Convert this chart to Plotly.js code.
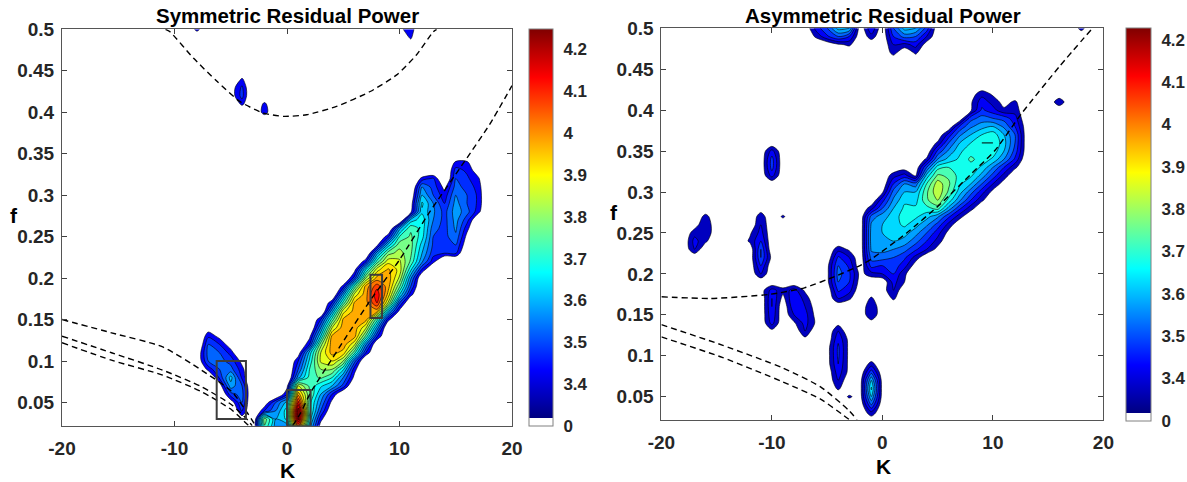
<!DOCTYPE html>
<html><head><meta charset="utf-8">
<script src="https://cdn.plot.ly/plotly-3.0.1.min.js"></script>
<style>html,body{margin:0;padding:0;background:#fff}#chart{width:1187px;height:482px}</style>
</head><body><div id="chart"></div>
<script>
// ---------- grid axes ----------
const fGrid = [0.02,0.03,0.04,0.05,0.06,0.07,0.08,0.09,0.10,0.11,0.12,0.13,0.14,0.15,0.16,0.17,0.18,0.19,0.20,0.21,0.22,0.23,0.24,0.25,0.26,0.27,0.28,0.29,0.30,0.31,0.32,0.33,0.34,0.35,0.36,0.37,0.38,0.39,0.40,0.41,0.42,0.43,0.44,0.45,0.46,0.47,0.48,0.49,0.50];
const symK = [-9,-8,-7,-6,-5,-4,-3,-2,-1,0,1,2,3,4,5,6,7,8,9,10,11,12,13,14,15,16,17,18];
const asymK = [-18,-17,-16,-15,-14,-13,-12,-11,-10,-9,-8,-7,-6,-5,-4,-3,-2,-1,0,1,2,3,4,5,6,7,8,9,10,11,12,13,14,15,16,17,18,19];
const FLOOR = 3.3; // masked (insignificant) cells, shown as "0" on the colour bar

// ---------- symmetric residual power: one row per f, [K, value] for cells above the mask ----------
const symRows = [
 [[-3,3.33],[-2,3.74],[-1,3.58],[0,3.56],[1,4.02],[2,3.62],[3,3.36]],
 [[-4,3.36],[-2,3.78],[-1,3.6],[0,3.66],[1,4.22],[2,3.68],[3,3.42]],
 [[-4,3.46],[-2,3.45],[-1,3.55],[0,3.68],[1,4.24],[2,3.72],[3,3.5],[4,3.33]],
 [[-5,3.36],[-4,3.5],[-2,3.35],[-1,3.5],[0,3.62],[1,4.12],[2,3.72],[3,3.55],[4,3.38]],
 [[-5,3.48],[-4,3.52],[0,3.45],[1,3.98],[2,3.76],[3,3.6],[4,3.45],[5,3.32]],
 [[-6,3.36],[-5,3.58],[-4,3.5],[0,3.38],[1,3.85],[2,3.74],[3,3.66],[4,3.6],[5,3.48]],
 [[-6,3.46],[-5,3.62],[-4,3.44],[1,3.58],[2,3.72],[3,3.76],[4,3.7],[5,3.55],[6,3.38]],
 [[-7,3.42],[-6,3.5],[-5,3.52],[-4,3.42],[1,3.5],[2,3.7],[3,3.8],[4,3.8],[5,3.66],[6,3.42]],
 [[-8,3.34],[-7,3.5],[-6,3.52],[-5,3.48],[-4,3.38],[1,3.45],[2,3.66],[3,3.86],[4,3.9],[5,3.8],[6,3.52]],
 [[-8,3.34],[-7,3.52],[-6,3.5],[-5,3.43],[1,3.36],[2,3.62],[3,3.85],[4,3.97],[5,3.93],[6,3.72],[7,3.45]],
 [[-7,3.5],[-6,3.45],[-5,3.36],[2,3.45],[3,3.78],[4,3.98],[5,3.98],[6,3.86],[7,3.56],[8,3.32]],
 [[-7,3.44],[-6,3.38],[2,3.38],[3,3.65],[4,3.96],[5,3.98],[6,3.97],[7,3.74],[8,3.46]],
 [[-7,3.36],[3,3.55],[4,3.85],[5,3.98],[6,3.98],[7,3.86],[8,3.58]],
 [[3,3.45],[4,3.72],[5,3.96],[6,3.98],[7,3.97],[8,3.72],[9,3.42]],
 [[4,3.58],[5,3.88],[6,3.97],[7,3.98],[8,3.97],[9,3.62],[10,3.38]],
 [[4,3.45],[5,3.72],[6,3.96],[7,3.98],[8,4.1],[9,3.84],[10,3.5]],
 [[5,3.58],[6,3.87],[7,3.98],[8,4.14],[9,3.93],[10,3.65],[11,3.42]],
 [[5,3.42],[6,3.72],[7,3.97],[8,4.08],[9,3.97],[10,3.76],[11,3.5]],
 [[6,3.47],[7,3.8],[8,3.97],[9,3.98],[10,3.84],[11,3.56],[12,3.32]],
 [[6,3.38],[7,3.65],[8,3.88],[9,3.96],[10,3.88],[11,3.66],[12,3.44]],
 [[7,3.44],[8,3.72],[9,3.88],[10,3.86],[11,3.74],[12,3.56],[13,3.42]],
 [[8,3.58],[9,3.78],[10,3.82],[11,3.76],[12,3.6],[13,3.47],[14,3.45],[15,3.46]],
 [[8,3.38],[9,3.62],[10,3.78],[11,3.77],[12,3.63],[13,3.49],[14,3.47],[15,3.5],[16,3.35]],
 [[9,3.44],[10,3.7],[11,3.76],[12,3.67],[13,3.5],[14,3.48],[15,3.54],[16,3.38]],
 [[10,3.58],[11,3.74],[12,3.68],[13,3.52],[14,3.48],[15,3.56],[16,3.42]],
 [[11,3.62],[12,3.68],[13,3.55],[14,3.48],[15,3.57],[16,3.47],[17,3.32]],
 [[11,3.38],[12,3.64],[13,3.56],[14,3.48],[15,3.58],[16,3.52],[17,3.42]],
 [[11,3.36],[12,3.66],[13,3.55],[14,3.45],[15,3.57],[16,3.5],[17,3.44]],
 [[11,3.33],[12,3.6],[13,3.5],[14,3.42],[15,3.55],[16,3.5],[17,3.44]],
 [[12,3.55],[13,3.48],[14,3.38],[15,3.52],[16,3.48],[17,3.43]],
 [[12,3.42],[13,3.46],[15,3.5],[16,3.46],[17,3.41]],
 [[15,3.47],[16,3.44],[17,3.36]],
 [[15,3.41],[16,3.41]],
 [],[],[],[],[],
 [[-2,3.44]],
 [[-4,3.42],[-2,3.42]],
 [[-5,3.36],[-4,3.47]],
 [[-5,3.36],[-4,3.46]],
 [[-4,3.41]],
 [],[],[],
 [[11,3.35]],
 [[10,3.34],[11,3.41]],
 [[-8,3.43],[10,3.38],[11,3.44]]
];

// ---------- asymmetric residual power ----------
const asymRows = [
 [],
 [[-1,3.38]],
 [[-1,3.5]],
 [[-3,3.36],[-2,3.32],[-1,3.6],[0,3.32]],
 [[-4,3.36],[-2,3.32],[-1,3.66],[0,3.32]],
 [[-4,3.4],[-2,3.32],[-1,3.6],[0,3.32]],
 [[-4,3.43],[-3,3.33],[-1,3.48]],
 [[-5,3.32],[-4,3.45],[-3,3.33],[-1,3.37]],
 [[-5,3.32],[-4,3.46],[-3,3.33]],
 [[-5,3.32],[-4,3.46],[-3,3.33]],
 [[-7,3.33],[-4,3.44],[-3,3.33]],
 [[-10,3.33],[-7,3.4],[-4,3.4]],
 [[-10,3.42],[-8,3.34],[-7,3.42],[-6,3.34],[-4,3.33],[-1,3.32]],
 [[-10,3.44],[-8,3.4],[-7,3.42],[-6,3.33],[-1,3.4]],
 [[-10,3.45],[-8,3.44],[-7,3.4],[-6,3.32],[-1,3.4]],
 [[-10,3.45],[-9,3.33],[-8,3.45],[-7,3.38],[-4,3.4],[-3,3.36],[-1,3.36],[1,3.36]],
 [[-11,3.32],[-10,3.42],[-9,3.37],[-8,3.42],[-7,3.34],[-4,3.46],[-3,3.42],[0,3.32],[1,3.4]],
 [[-5,3.33],[-4,3.5],[-3,3.45],[-2,3.32],[1,3.42],[2,3.35]],
 [[-11,3.4],[-5,3.33],[-4,3.52],[-3,3.46],[-2,3.33],[-1,3.38],[0,3.4],[1,3.45],[2,3.36]],
 [[-11,3.45],[-5,3.33],[-4,3.5],[-3,3.44],[-1,3.47],[0,3.45],[1,3.48],[2,3.42],[3,3.32]],
 [[-11,3.5],[-10,3.33],[-4,3.46],[-3,3.4],[-1,3.52],[0,3.52],[1,3.5],[2,3.46],[3,3.38]],
 [[-17,3.4],[-11,3.5],[-4,3.38],[-3,3.34],[-1,3.56],[0,3.57],[1,3.55],[2,3.52],[3,3.46],[4,3.4],[5,3.33]],
 [[-17,3.42],[-16,3.36],[-12,3.36],[-11,3.45],[-1,3.57],[0,3.58],[1,3.6],[2,3.58],[3,3.52],[4,3.45],[5,3.38]],
 [[-17,3.38],[-16,3.4],[-12,3.34],[-11,3.42],[-1,3.57],[0,3.6],[1,3.62],[2,3.62],[3,3.57],[4,3.5],[5,3.42],[6,3.33]],
 [[-17,3.32],[-16,3.4],[-11,3.4],[-1,3.56],[0,3.6],[1,3.63],[2,3.66],[3,3.62],[4,3.56],[5,3.48],[6,3.38]],
 [[-16,3.37],[-11,3.38],[-9,3.36],[-1,3.52],[0,3.58],[1,3.62],[2,3.68],[3,3.66],[4,3.62],[5,3.56],[6,3.46],[7,3.37]],
 [[-11,3.32],[-1,3.38],[0,3.5],[1,3.6],[2,3.66],[3,3.66],[4,3.68],[5,3.72],[6,3.58],[7,3.46],[8,3.37]],
 [[0,3.43],[1,3.56],[2,3.64],[3,3.63],[4,3.74],[5,3.8],[6,3.68],[7,3.56],[8,3.45],[9,3.36]],
 [[0,3.34],[1,3.52],[2,3.6],[3,3.6],[4,3.74],[5,3.84],[6,3.74],[7,3.62],[8,3.52],[9,3.42],[10,3.33]],
 [[1,3.45],[2,3.55],[3,3.52],[4,3.7],[5,3.83],[6,3.76],[7,3.66],[8,3.6],[9,3.5],[10,3.4],[11,3.32]],
 [[-10,3.42],[1,3.38],[2,3.42],[3,3.34],[4,3.62],[5,3.76],[6,3.74],[7,3.68],[8,3.66],[9,3.58],[10,3.48],[11,3.38]],
 [[-10,3.47],[2,3.32],[4,3.5],[5,3.68],[6,3.7],[7,3.68],[8,3.68],[9,3.64],[10,3.55],[11,3.45],[12,3.36]],
 [[-10,3.47],[4,3.36],[5,3.55],[6,3.62],[7,3.66],[8,3.71],[9,3.68],[10,3.64],[11,3.55],[12,3.44]],
 [[-10,3.42],[5,3.46],[6,3.56],[7,3.64],[8,3.68],[9,3.69],[10,3.68],[11,3.6],[12,3.48],[13,3.32]],
 [[5,3.36],[6,3.5],[7,3.6],[8,3.65],[9,3.7],[10,3.7],[11,3.62],[12,3.5],[13,3.32]],
 [[6,3.42],[7,3.54],[8,3.6],[9,3.65],[10,3.68],[11,3.6],[12,3.5],[13,3.32]],
 [[7,3.46],[8,3.54],[9,3.58],[10,3.6],[11,3.54],[12,3.45],[13,3.32]],
 [[8,3.48],[9,3.52],[10,3.5],[11,3.48],[12,3.42]],
 [[8,3.34],[9,3.46],[10,3.42],[11,3.36],[12,3.38]],
 [[8,3.34],[9,3.43],[10,3.38],[11,3.33],[12,3.36],[16,3.39]],
 [[8,3.32],[9,3.38],[10,3.34]],
 [],[],[],[],
 [[1,3.37],[3,3.36]],
 [[-4,3.34],[-3,3.36],[1,3.4],[2,3.38],[3,3.42],[4,3.32]],
 [[-6,3.36],[-5,3.44],[-4,3.5],[-3,3.45],[-1,3.38],[1,3.45],[2,3.52],[3,3.5],[4,3.4]],
 [[-6,3.42],[-5,3.5],[-4,3.62],[-3,3.6],[-1,3.45],[1,3.5],[2,3.62],[3,3.6],[4,3.48],[18,3.37]]
];

// ---------- dashed theoretical curves ----------
const symTopK  = [-10.8,-10.4,-8.3,-6.2,-4.2,-2.1,-0.3,1.75,4.4,7.4,9.75,11.5,13.0,13.3];
const symTopF  = [0.5,0.497,0.465,0.437,0.413,0.399,0.395,0.397,0.407,0.425,0.445,0.469,0.497,0.5];
const symRiseK = [0.5,1.2,2.1,3.5,5.3,7.5,10.0,12.6,15.8,18.0,20.0];
const symRiseF = [0.022,0.037,0.062,0.092,0.13,0.175,0.222,0.278,0.341,0.385,0.432];
const symLowAK = [-20,-15.6,-11.05,-7.6,-4.9,-3.5,-2.8];
const symLowAF = [0.150,0.134,0.117,0.089,0.063,0.037,0.022];
const symLowBK = [-20,-15.6,-11.05,-7.6,-4.9,-3.5,-3.1];
const symLowBF = [0.130,0.110,0.089,0.069,0.047,0.029,0.022];
const symLowCK = [-20,-15.6,-11.05,-7.6,-4.9,-3.8,-3.4];
const symLowCF = [0.122,0.101,0.083,0.063,0.041,0.027,0.022];
const asymCurveK = [-20,-15.5,-10.2,-7.05,-4.1,-1.9,-0.9,2.2,5.3,8.1,10.2,12.6,16.0,19.0];
const asymCurveF = [0.172,0.170,0.175,0.183,0.198,0.211,0.219,0.25,0.286,0.323,0.351,0.396,0.453,0.5];
const asymLowAK = [-20,-14.5,-9,-5.6,-3.1,-2.3];
const asymLowAF = [0.138,0.113,0.085,0.062,0.034,0.022];
const asymLowBK = [-20,-14.5,-9,-5.6,-3.5,-2.9];
const asymLowBF = [0.123,0.098,0.068,0.047,0.027,0.021];

// ---------- highlight boxes (symmetric panel) ----------
const boxK0 = [-6.25, 0.0, 7.42];
const boxK1 = [-3.65, 2.1, 8.45];
const boxF0 = [0.030, 0.022, 0.152];
const boxF1 = [0.100, 0.065, 0.204];

// ---------- ticks ----------
const kTicks = [-20,-10,0,10,20];
const kTickText = ['-20','-10','0','10','20'];
const fTicks = [0.05,0.1,0.15,0.2,0.25,0.3,0.35,0.4,0.45,0.5];
const fTickText = ['0.05','0.1','0.15','0.2','0.25','0.3','0.35','0.4','0.45','0.5'];
const cbTicks = [3.3,3.4,3.5,3.6,3.7,3.8,3.9,4.0,4.1,4.2];
const cbTickText = ['0','3.4','3.5','3.6','3.7','3.8','3.9','4','4.1','4.2'];

// ---------- build ----------
const JET_LO = 3.318, CB_MIN = 3.3;
const CMAX_SYM = 4.247, CMAX_ASYM = 4.228;
function jetRGB(t){
  t = Math.max(0, Math.min(1, t));
  const c = x => Math.round(255*Math.max(0, Math.min(1, x)));
  const r = Math.min(4*t-1.5, -4*t+4.5), g = Math.min(4*t-0.5, -4*t+3.5), b = Math.min(4*t+0.5, -4*t+2.5);
  return 'rgb(' + c(r) + ',' + c(g) + ',' + c(b) + ')';
}
function buildZ(kArr, rows){
  return fGrid.map((f, i) => {
    const r = kArr.map(() => FLOOR);
    rows[i].forEach(([k, v]) => { r[kArr.indexOf(k)] = v; });
    return r;
  });
}
function contourScale(start, size, end, cmax){
  const nc = Math.round((end - start)/size) + 1;
  const s = [[0, '#ffffff']];
  for (let i = 0; i < nc; i++){
    const v = start + (i + 0.5)*size;
    s.push([i === nc - 1 ? 1 : (i + 1)/nc, jetRGB((v - JET_LO)/(cmax - JET_LO))]);
  }
  return s;
}
function barScale(cmax){
  const pw = (JET_LO - CB_MIN)/(cmax - CB_MIN);
  const s = [[0, '#ffffff'], [pw, '#ffffff']];
  const n = 40;
  for (let k = 0; k <= n; k++){
    let p = k === 0 ? pw + 0.0005 : pw + (1 - pw)*k/n;
    if (k === n) p = 1;
    s.push([Math.min(1, p), jetRGB(k/n)]);
  }
  return s;
}
const FONT = 'Liberation Sans, Arial, sans-serif';
const INK = '#262626';
function contourTrace(kArr, rows, xa, ya, start, cmax){
  const end = 4.2, size = 0.05;
  return {type:'contour', x:kArr, y:fGrid, z:buildZ(kArr, rows), xaxis:xa, yaxis:ya,
    autocontour:false, contours:{start:start, end:end, size:size, coloring:'fill', showlines:true},
    zauto:false, zmin:start - size/2, zmax:end + size/2,
    line:{color:'#000000', width:0.6, smoothing:0.85},
    colorscale:contourScale(start, size, end, cmax), showscale:false, hoverinfo:'skip'};
}
function dashed(x, y, xa, ya, shape){
  return {type:'scatter', mode:'lines', x:x, y:y, xaxis:xa, yaxis:ya,
    line:{color:'#000', width:1.4, dash:'6px,4px', shape:shape || 'linear', smoothing:0.6},
    hoverinfo:'skip', showlegend:false};
}
function cbTrace(xa, ya, cmax, cb){
  return {type:'scatter', mode:'markers', x:[-100], y:[-1], xaxis:xa, yaxis:ya, hoverinfo:'skip', showlegend:false,
    marker:{size:1, opacity:0, color:[CB_MIN], cmin:CB_MIN, cmax:cmax, autocolorscale:false, colorscale:barScale(cmax), showscale:true,
      colorbar:Object.assign({xref:'paper', yref:'paper', xanchor:'left', yanchor:'top', lenmode:'fraction',
        thicknessmode:'pixels', xpad:0, ypad:0, outlinecolor:'#808080', outlinewidth:1,
        tickmode:'array', tickvals:cbTicks, ticktext:cbTickText, ticks:'outside', ticklen:7, tickcolor:'rgba(0,0,0,0)',
        tickfont:{family:FONT, size:17, color:INK, weight:700}}, cb)}};
}

const traces = [
  contourTrace(symK, symRows, 'x', 'y', 3.40, CMAX_SYM),
  contourTrace(asymK, asymRows, 'x2', 'y2', 3.35, CMAX_ASYM),
  dashed(symTopK, symTopF, 'x', 'y', 'spline'),
  dashed(symRiseK, symRiseF, 'x', 'y', 'spline'),
  dashed(symLowAK, symLowAF, 'x', 'y', 'spline'),
  dashed(symLowBK, symLowBF, 'x', 'y', 'spline'),
  dashed(symLowCK, symLowCF, 'x', 'y', 'spline'),
  dashed(asymCurveK, asymCurveF, 'x2', 'y2', 'spline'),
  dashed(asymLowAK, asymLowAF, 'x2', 'y2', 'spline'),
  dashed(asymLowBK, asymLowBF, 'x2', 'y2', 'spline'),
  cbTrace('x', 'y', CMAX_SYM, {x:529/1187, y:1-29.3/482, len:397.4/482, thickness:24}),
  cbTrace('x2', 'y2', CMAX_ASYM, {x:1126/1187, y:1-27.7/482, len:393/482, thickness:25})
];

const tickFont = {family:FONT, size:19, color:INK, weight:700};
function xAxis(domain, anchor){
  return {domain:domain, anchor:anchor, range:[-20,20], tickmode:'array', tickvals:kTicks, ticktext:kTickText,
    ticks:'inside', ticklen:5, tickwidth:1, tickcolor:'#404040', showline:true, linecolor:'#555', linewidth:1,
    mirror:'ticks', showgrid:false, zeroline:false, tickfont:tickFont, ticklabelstandoff:5, fixedrange:true};
}
function yAxis(domain, anchor, lo){
  return {domain:domain, anchor:anchor, range:[lo,0.5], tickmode:'array', tickvals:fTicks, ticktext:fTickText,
    ticks:'inside', ticklen:5, tickwidth:1, tickcolor:'#404040', showline:true, linecolor:'#555', linewidth:1,
    mirror:'ticks', showgrid:false, zeroline:false, tickfont:tickFont, ticklabelstandoff:3, fixedrange:true};
}
const shapes = boxK0.map((k0, i) => ({type:'rect', xref:'x', yref:'y', x0:k0, x1:boxK1[i], y0:boxF0[i], y1:boxF1[i],
  line:{color:'#3c3c3c', width:2}, fillcolor:'rgba(0,0,0,0)', layer:'above'}));
function ann(text, x, y, size){
  return {text:text, xref:'paper', yref:'paper', x:x, y:y, xanchor:'center', yanchor:'middle', showarrow:false,
    font:{family:FONT, size:size, color:'#000', weight:700}};
}
const layout = {
  width:1187, height:482, margin:{l:0, r:0, t:0, b:0}, paper_bgcolor:'#fff', plot_bgcolor:'#fff',
  showlegend:false, font:{family:FONT, color:INK},
  xaxis:xAxis([62/1187, 512/1187], 'y'),
  yaxis:yAxis([1-425.7/482, 1-29.3/482], 'x', 0.022),
  xaxis2:xAxis([661.4/1187, 1103.4/1187], 'y2'),
  yaxis2:yAxis([1-420/482, 1-28.3/482], 'x2', 0.0215),
  shapes:shapes,
  annotations:[
    ann('Symmetric Residual Power', 287/1187, 1-15/482, 20.5),
    ann('Asymmetric Residual Power', 883/1187, 1-15/482, 20.5),
    ann('K', 287/1187, 1-470/482, 21),
    ann('K', 883/1187, 1-466/482, 21),
    ann('f', 13.5/1187, 1-216/482, 21),
    ann('f', 614/1187, 1-212/482, 21)
  ]
};
Plotly.newPlot('chart', traces, layout, {staticPlot:true, displayModeBar:false});
</script>
</body></html>
